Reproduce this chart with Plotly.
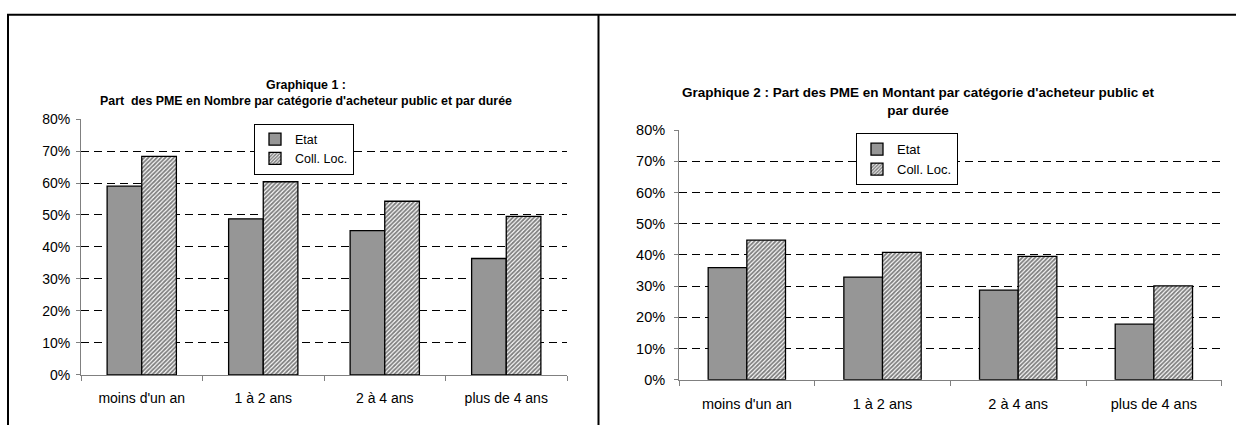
import plotly.graph_objects as go

categories = ["moins d'un an", "1 à 2 ans", "2 à 4 ans", "plus de 4 ans"]
etat_nombre = [0.59, 0.488, 0.451, 0.364]
coll_nombre = [0.683, 0.604, 0.543, 0.496]
etat_montant = [0.359, 0.329, 0.287, 0.178]
coll_montant = [0.447, 0.408, 0.395, 0.301]
y_ticks = [0, 0.1, 0.2, 0.3, 0.4, 0.5, 0.6, 0.7, 0.8]
y_tick_labels = ["0%", "10%", "20%", "30%", "40%", "50%", "60%", "70%", "80%"]
series_names = ["Etat", "Coll. Loc."]
title1 = "<b>Graphique 1 :<br>Part  des PME en Nombre par catégorie d'acheteur public et par durée</b>"
title2 = "<b>Graphique 2 : Part des PME en Montant par catégorie d'acheteur public et<br>par durée</b>"

W, H = 1236, 433
FONT = "Arial, 'Liberation Sans', sans-serif"

def px(x):
    return x / W

def py(y):
    return 1 - y / H

fig = go.Figure()

etat_style = dict(color="#969696", line=dict(color="black", width=1.3))
coll_style = dict(color="white", line=dict(color="black", width=1.3),
                  pattern=dict(shape="/", fgcolor="black", bgcolor="white", size=3, solidity=0.62))

fig.add_trace(go.Bar(x=categories, y=etat_nombre, name=series_names[0], marker=etat_style,
                     xaxis="x", yaxis="y", legend="legend"))
fig.add_trace(go.Bar(x=categories, y=coll_nombre, name=series_names[1], marker=coll_style,
                     xaxis="x", yaxis="y", legend="legend"))
fig.add_trace(go.Bar(x=categories, y=etat_montant, name=series_names[0], marker=etat_style,
                     xaxis="x2", yaxis="y2", legend="legend2"))
fig.add_trace(go.Bar(x=categories, y=coll_montant, name=series_names[1], marker=coll_style,
                     xaxis="x2", yaxis="y2", legend="legend2"))

def xaxis_style(size, standoff):
    return dict(type="category", showline=True, linecolor="#808080", linewidth=1,
                ticks="outside", tickson="boundaries", ticklen=5, tickcolor="#808080",
                showgrid=False, ticklabelstandoff=standoff,
                tickfont=dict(size=size, color="black", family=FONT), fixedrange=True)

def yaxis_style(size, standoff):
    return dict(range=[0, 0.8], tickvals=y_ticks, ticktext=y_tick_labels, showline=True,
                linecolor="#808080", linewidth=1, ticks="outside", ticklen=4, tickcolor="#808080",
                showgrid=True, gridcolor="black", gridwidth=1, griddash="8px,5px",
                ticklabelstandoff=standoff, zeroline=False,
                tickfont=dict(size=size, color="black", family=FONT), fixedrange=True)

fig.update_layout(
    width=W, height=H,
    margin=dict(l=0, r=0, t=0, b=0),
    paper_bgcolor="white", plot_bgcolor="white",
    font=dict(family=FONT, color="black"),
    barmode="group", bargap=0.43, bargroupgap=0,
    xaxis=dict(domain=[px(81), px(567)], anchor="y", **xaxis_style(14, 10)),
    yaxis=dict(domain=[py(381), py(115.3)], anchor="x", **yaxis_style(14, 3)),
    xaxis2=dict(domain=[px(679), px(1221.7)], anchor="y2", **xaxis_style(14.5, 11)),
    yaxis2=dict(domain=[py(386), py(126.7)], anchor="x2", **yaxis_style(14.5, 6)),
    legend=dict(x=px(254), y=py(120), xanchor="left", yanchor="top",
                bordercolor="black", borderwidth=1, bgcolor="white",
                font=dict(size=12.5, family=FONT), itemwidth=30, tracegroupgap=0),
    legend2=dict(x=px(856), y=py(130), xanchor="left", yanchor="top",
                 bordercolor="black", borderwidth=1, bgcolor="white",
                 font=dict(size=13, family=FONT), itemwidth=30, tracegroupgap=0),
    showlegend=True,
    annotations=[
        dict(text=title1, x=px(306), y=py(88), xref="paper", yref="paper",
             showarrow=False, xanchor="center", yanchor="middle",
             font=dict(size=12.4, family=FONT)),
        dict(text=title2, x=px(918), y=py(97), xref="paper", yref="paper",
             showarrow=False, xanchor="center", yanchor="middle",
             font=dict(size=13.5, family=FONT)),
    ],
    shapes=[
        dict(type="line", xref="paper", yref="paper", x0=px(7), x1=1, y0=py(7), y1=py(7),
             line=dict(color="black", width=2)),
        dict(type="line", xref="paper", yref="paper", x0=px(8), x1=px(8), y0=py(7), y1=0,
             line=dict(color="black", width=2)),
        dict(type="line", xref="paper", yref="paper", x0=px(598.5), x1=px(598.5), y0=py(7), y1=0,
             line=dict(color="black", width=2)),
    ],
)

fig.write_html("out.html", config={"displayModeBar": False},
               post_script="document.body.style.margin='0px';document.documentElement.style.overflow='hidden';")
